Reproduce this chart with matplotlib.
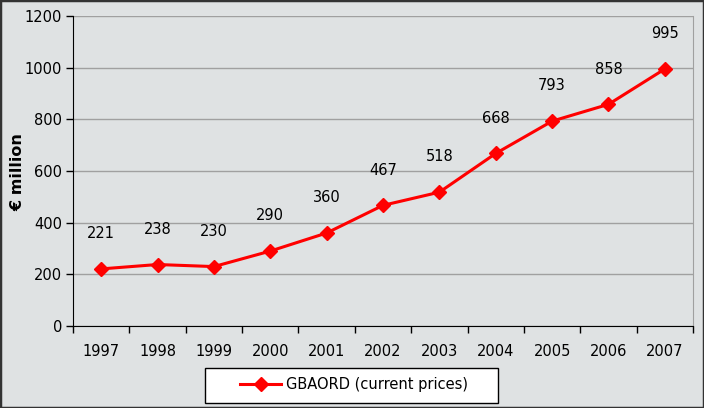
import matplotlib.pyplot as plt
from matplotlib.patches import Rectangle

# --- data ---
YEARS = ['1997', '1998', '1999', '2000', '2001', '2002', '2003', '2004', '2005', '2006', '2007']
GBAORD = [221, 238, 230, 290, 360, 467, 518, 668, 793, 858, 995]

BG = '#dfe2e3'
RED = '#ff0000'

plt.rcParams['font.family'] = 'DejaVu Sans'

fig = plt.figure(figsize=(7.04, 4.08), dpi=100, facecolor=BG)
ax = fig.add_axes([73 / 704, 1 - 326 / 408, 620 / 704, 310 / 408])
ax.set_facecolor(BG)

x = list(range(len(YEARS)))
ax.plot(x, GBAORD, color=RED, lw=2.2, marker='D', ms=7, mfc=RED, mec=RED,
        label='GBAORD (current prices)', zorder=3)

# data labels above points
for xi, v in zip(x, GBAORD):
    ax.annotate(str(v), (xi, v), xytext=(0, 20), textcoords='offset points',
                ha='center', va='bottom', fontsize=10.5, color='black')

ax.set_xlim(-0.5, len(YEARS) - 0.5)
ax.set_ylim(0, 1200)
ax.set_yticks(range(0, 1201, 200))
ax.grid(axis='y', color='#a0a0a0', lw=1)
ax.set_axisbelow(True)

# category ticks sit between categories
ax.set_xticks([i - 0.5 for i in range(len(YEARS) + 1)])
ax.set_xticklabels([])
ax.set_xticks(x, minor=True)
ax.set_xticklabels(YEARS, minor=True, fontsize=10.5)
ax.tick_params(axis='x', which='major', length=5, color='black', width=1, direction='out')
ax.tick_params(axis='x', which='minor', length=0, pad=13)
ax.tick_params(axis='y', length=5, width=1, labelsize=10.5, pad=3)

ax.spines['top'].set_visible(False)
ax.spines['right'].set_color('#a0a0a0')
ax.spines['left'].set_color('black')
ax.spines['bottom'].set_color('black')

fig.text(18 / 704, 1 - 172 / 408, '€ million', rotation=90, fontsize=11.5,
         fontweight='bold', ha='center', va='center')

# legend box drawn by hand, legend itself without frame
fig.patches.append(Rectangle((205 / 704, 1 - 403 / 408), 293 / 704, 35 / 408,
                             transform=fig.transFigure, facecolor='white',
                             edgecolor='black', lw=1, zorder=1))
leg = fig.legend(loc='center', bbox_to_anchor=(354 / 704, 1 - 385 / 408),
                 fontsize=10.5, frameon=False, handlelength=2.8, handletextpad=0.3)
leg.set_zorder(5)

# outer border
fig.patches.append(Rectangle((0, 0), 1, 1, transform=fig.transFigure, fill=False,
                             edgecolor='#333333', lw=2.5))

fig.savefig('out.png', dpi=100, facecolor=BG)
